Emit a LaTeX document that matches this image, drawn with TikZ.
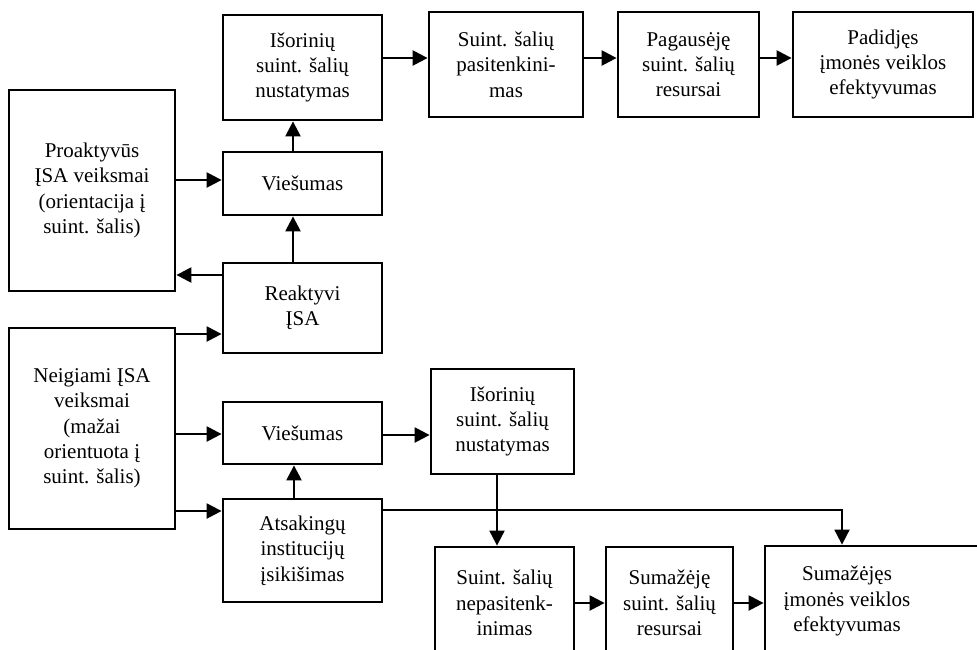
\documentclass[tikz,border=0pt]{standalone}
\usepackage{fontspec}
\setmainfont{Liberation Serif}
\usetikzlibrary{arrows.meta}

\tikzset{
  box/.style={draw, line width=2.8pt, rectangle, inner sep=0pt, align=center,
              font=\fontsize{21}{25.3}\selectfont},
  txt/.style={inner sep=0pt, align=center, font=\fontsize{21}{25.3}\selectfont},
  arr/.style={line width=2.4pt, -{Triangle[length=15pt,width=15pt]}},
  thinarr/.style={line width=1.9pt, -{Triangle[length=15pt,width=15pt]}},
}

\begin{document}
\begin{tikzpicture}[x=1pt, y=-1pt]
\useasboundingbox (0,0) rectangle (977,649);
\clip (0,0) rectangle (977,649);

% upper branch: proactive actions
\node[box, minimum width=166pt, minimum height=201pt] (pro) at (92,190.5)
  {Proaktyvūs\\ĮSA veiksmai\\(orientacija į\\suint. šalis)};
\node[box, minimum width=159pt, minimum height=105pt] (ext1) at (302.5,67.5)
  {Išorinių\\suint. šalių\\nustatymas};
\node[box, minimum width=159pt, minimum height=63pt] (pub1) at (302.5,183.5)
  {Viešumas};
\node[box, minimum width=159pt, minimum height=90pt] (react) at (302.5,308)
  {Reaktyvi\\ĮSA};
\node[box, minimum width=154pt, minimum height=105pt] (sat) at (506,64.5)
  {Suint. šalių\\pasitenkini-\\mas};
\node[box, minimum width=141pt, minimum height=105pt] (res1) at (688.5,64.5)
  {Pagausėję\\suint. šalių\\resursai};
\node[box, minimum width=180pt, minimum height=105pt] (eff1) at (883,64.5)
  {Padidjęs\\įmonės veiklos\\efektyvumas};

% lower branch: negative actions
\node[box, minimum width=166pt, minimum height=201pt] (neg) at (92,428.5)
  {Neigiami ĮSA\\veiksmai\\(mažai\\orientuota į\\suint. šalis)};
\node[box, minimum width=159pt, minimum height=62pt] (pub2) at (302.5,433)
  {Viešumas};
\node[box, minimum width=159pt, minimum height=103pt] (inst) at (302.5,550.5)
  {Atsakingų\\institucijų\\įsikišimas};
\node[box, minimum width=143pt, minimum height=105pt] (ext2) at (502.5,421.5)
  {Išorinių\\suint. šalių\\nustatymas};
\node[box, minimum width=139pt, minimum height=112pt] (unsat) at (504.5,603)
  {Suint. šalių\\nepasitenk-\\inimas};
\node[box, minimum width=127pt, minimum height=112pt] (res2) at (669.5,603)
  {Sumažėję\\suint. šalių\\resursai};
\node[box, minimum width=230pt, minimum height=108pt] (eff2) at (880,600) {};
\node[txt] (eff2t) at (847,601) {Sumažėjęs\\įmonės veiklos\\efektyvumas};

% connectors, upper branch
\draw[arr] (pro.east |- 0,180) -- (pub1.west |- 0,180);
\draw[arr] (react.west |- 0,275) -- (pro.east |- 0,275);
\draw[arr] (react.north -| 293,0) -- (pub1.south -| 293,0);
\draw[arr] (pub1.north -| 293,0) -- (ext1.south -| 293,0);
\draw[arr] (ext1.east |- 0,58) -- (sat.west |- 0,58);
\draw[arr] (sat.east |- 0,58) -- (res1.west |- 0,58);
\draw[arr] (res1.east |- 0,58) -- (eff1.west |- 0,58);

% connectors, lower branch
\draw[arr] (neg.east |- 0,334) -- (react.west |- 0,334);
\draw[arr] (neg.east |- 0,434) -- (pub2.west |- 0,434);
\draw[arr] (neg.east |- 0,511) -- (inst.west |- 0,511);
\draw[arr] (inst.north -| 294,0) -- (pub2.south -| 294,0);
\draw[arr] (pub2.east |- 0,435) -- (ext2.west |- 0,435);
\draw[thinarr] (ext2.south -| 497,0) -- (unsat.north -| 497,0);
\draw[thinarr] (inst.east |- 0,510) -| (eff2.north -| 842,0);
\draw[arr] (unsat.east |- 0,603) -- (res2.west |- 0,603);
\draw[arr] (res2.east |- 0,603) -- (eff2.west |- 0,603);
\end{tikzpicture}
\end{document}
